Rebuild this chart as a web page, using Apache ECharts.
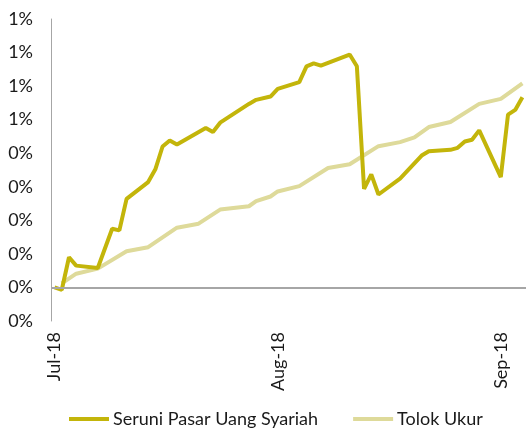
<!DOCTYPE html>
<html>
<head>
<meta charset="utf-8">
<script src="https://cdn.jsdelivr.net/npm/echarts@6/dist/echarts.min.js"></script>
<style>
html,body{margin:0;padding:0;background:#fff;}
#chart{width:526px;height:432px;}
</style>
</head>
<body>
<div id="chart"></div>
<script>
// Calendar span of the x axis
var startDate = '2018-07-01';
var endDate = '2018-09-04';
var monthLabels = { '2018-07-01': 'Jul-18', '2018-08-01': 'Aug-18', '2018-09-01': 'Sep-18' };
var yTickLabels = ['0%', '0%', '0%', '0%', '0%', '0%', '1%', '1%', '1%', '1%'];
var seriesNames = ['Seruni Pasar Uang Syariah', 'Tolok Ukur'];

// Values in percent
var seruniDates = ['2018-07-01','2018-07-02','2018-07-03','2018-07-04','2018-07-07','2018-07-09','2018-07-10','2018-07-11','2018-07-14','2018-07-15','2018-07-16','2018-07-17','2018-07-18','2018-07-22','2018-07-23','2018-07-24','2018-07-28','2018-07-29','2018-07-31','2018-08-01','2018-08-04','2018-08-05','2018-08-06','2018-08-07','2018-08-11','2018-08-12','2018-08-13','2018-08-14','2018-08-15','2018-08-18','2018-08-21','2018-08-22','2018-08-25','2018-08-26','2018-08-27','2018-08-28','2018-08-29','2018-09-01','2018-09-02','2018-09-03','2018-09-04'];
var seruniValues = [0.000,-0.007,0.090,0.065,0.058,0.175,0.170,0.264,0.314,0.352,0.420,0.438,0.426,0.475,0.463,0.491,0.547,0.559,0.569,0.592,0.612,0.659,0.668,0.661,0.694,0.659,0.294,0.337,0.277,0.324,0.393,0.406,0.410,0.416,0.435,0.440,0.468,0.329,0.515,0.529,0.567];

var tolokDates = ['2018-07-02','2018-07-04','2018-07-07','2018-07-11','2018-07-14','2018-07-18','2018-07-21','2018-07-24','2018-07-28','2018-07-29','2018-07-31','2018-08-01','2018-08-04','2018-08-08','2018-08-11','2018-08-15','2018-08-18','2018-08-20','2018-08-22','2018-08-25','2018-08-29','2018-09-01','2018-09-04'];
var tolokValues = [0.012,0.041,0.056,0.108,0.120,0.178,0.190,0.232,0.242,0.257,0.271,0.286,0.302,0.356,0.367,0.421,0.433,0.447,0.478,0.493,0.547,0.562,0.608];

function ymd(d){
  var m = d.getUTCMonth()+1, day = d.getUTCDate();
  return d.getUTCFullYear()+'-'+(m<10?'0':'')+m+'-'+(day<10?'0':'')+day;
}
var categories = [];
for (var t = Date.parse(startDate+'T00:00:00Z'); t <= Date.parse(endDate+'T00:00:00Z'); t += 86400000) {
  categories.push(ymd(new Date(t)));
}
function pairs(dates, vals){ return dates.map(function(d,i){ return [d, vals[i]]; }); }

var yMin = -0.1, yStep = 0.1;
var font = 'Lato';
var chart = echarts.init(document.getElementById('chart'), null, {renderer:'canvas'});
chart.setOption({
  animation: false,
  textStyle: { fontFamily: font },
  grid: { left: 51, right: 0, top: 19, bottom: 111, containLabel: false },
  legend: {
    data: seriesNames,
    left: 69, top: 410, padding: 0,
    icon: 'rect',
    itemWidth: 40, itemHeight: 4, itemGap: 35,
    textStyle: { fontFamily: font, fontSize: 18, color: '#1a1a1a', padding: [0,0,0,-1] }
  },
  xAxis: {
    type: 'category',
    data: categories,
    boundaryGap: true,
    axisLine: { show: false, onZero: false },
    axisTick: { show: false },
    splitLine: { show: false },
    axisLabel: {
      rotate: 90,
      margin: 11,
      fontSize: 18,
      color: '#1a1a1a',
      fontFamily: font,
      interval: function(idx, val){ return monthLabels.hasOwnProperty(val); },
      formatter: function(val){ return monthLabels[val] || ''; }
    }
  },
  yAxis: {
    type: 'value',
    min: yMin, max: 0.8, interval: yStep,
    axisLine: { show: true, lineStyle: { color: '#A6A6A6', width: 1 } },
    axisTick: { show: false },
    splitLine: { show: false },
    axisLabel: {
      margin: 18, fontSize: 18, color: '#1a1a1a', fontFamily: font,
      formatter: function(v){ return yTickLabels[Math.round((v - yMin)/yStep)] || ''; }
    }
  },
  series: [
    {
      name: 'zero', type: 'line', data: [], z: 1, silent: true,
      markLine: {
        silent: true, symbol: 'none', label: { show: false },
        lineStyle: { color: '#A6A6A6', width: 2, type: 'solid' },
        data: [{ yAxis: 0 }]
      }
    },
    {
      name: seriesNames[1], type: 'line', data: pairs(tolokDates, tolokValues),
      symbol: 'none', connectNulls: true, z: 3,
      lineStyle: { color: '#DEDA9A', width: 4 }, itemStyle: { color: '#DEDA9A' }
    },
    {
      name: seriesNames[0], type: 'line', data: pairs(seruniDates, seruniValues),
      symbol: 'none', connectNulls: true, z: 4,
      lineStyle: { color: '#C3B50A', width: 4 }, itemStyle: { color: '#C3B50A' }
    }
  ]
});
</script>
</body>
</html>
